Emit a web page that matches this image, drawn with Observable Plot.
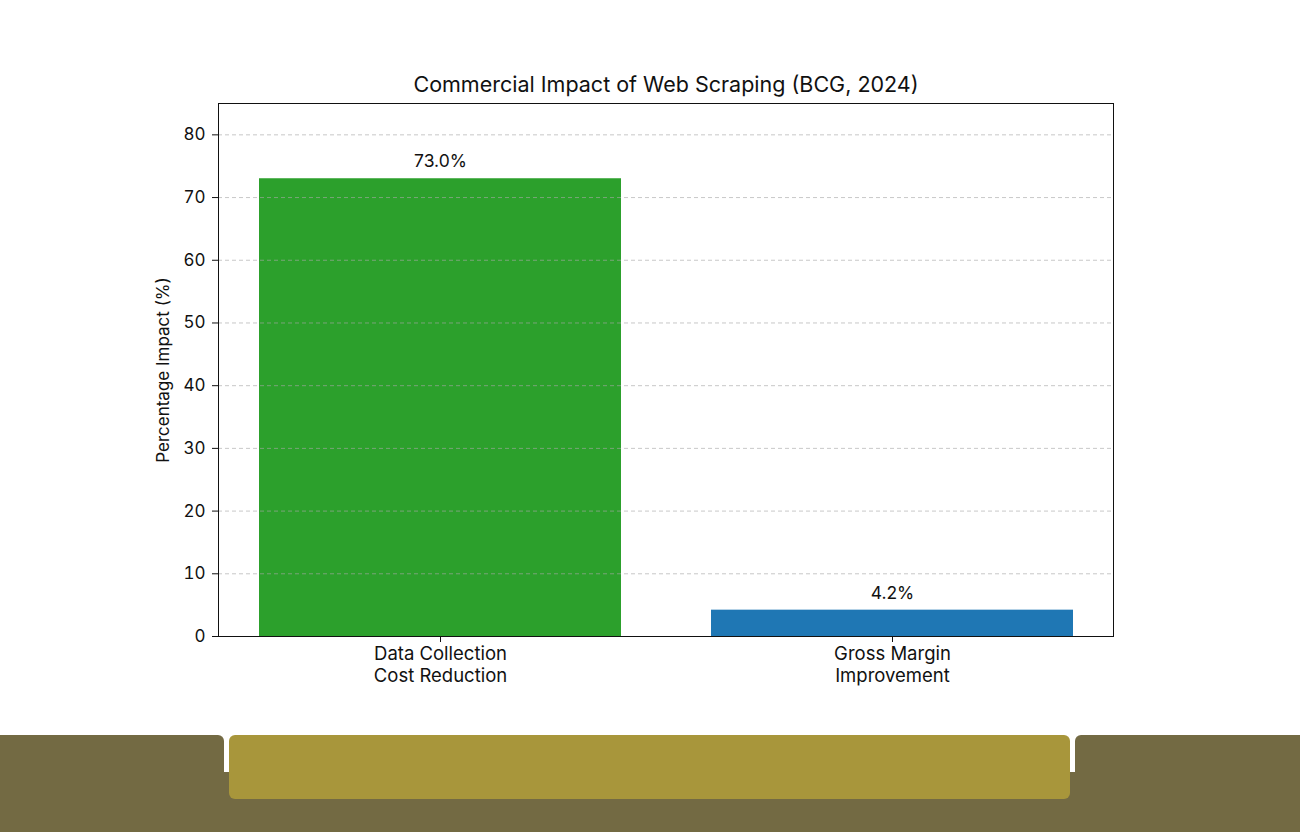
<!DOCTYPE html>
<html>
<head>
<meta charset="utf-8">
<script src="https://cdn.jsdelivr.net/npm/d3@7"></script>
<script src="https://cdn.jsdelivr.net/npm/@observablehq/plot@0.6"></script>
<style>
  html, body { margin: 0; padding: 0; background: #ffffff; overflow: hidden; }
  body { width: 1300px; height: 832px; position: relative; font-family: "Inter", "Roboto", sans-serif; }
  #chart { position: absolute; left: 0; top: 0; }
  .band { position: absolute; }
</style>
</head>
<body>
<div id="chart"></div>
<div class="band" style="left:0; top:772px; width:1300px; height:60px; background:#736a43;"></div>
<div class="band" style="left:0; top:735px; width:224px; height:97px; background:#736a43; border-top-right-radius:6px;"></div>
<div class="band" style="left:1075px; top:735px; width:225px; height:97px; background:#736a43; border-top-left-radius:6px;"></div>
<div class="band" style="left:229px; top:735px; width:841px; height:64px; background:#a8963b; border-radius:6px;"></div>
<script>
// Categories and measured impact (%)
const categories = ["Data Collection\nCost Reduction", "Gross Margin\nImprovement"];
const values = [73.0, 4.2];
const barColors = ["#2ca02c", "#1f77b4"];
const yTicks = [0, 10, 20, 30, 40, 50, 60, 70, 80];
const title = "Commercial Impact of Web Scraping (BCG, 2024)";
const yLabel = "Percentage Impact (%)";

const data = categories.map((c, i) => ({category: c, value: values[i], color: barColors[i]}));
const font = "Inter, Roboto, sans-serif";

const chart = Plot.plot({
  width: 1300,
  height: 735,
  marginLeft: 218,
  marginRight: 187,
  marginTop: 103,
  marginBottom: 99,
  style: {fontFamily: font, fontSize: "17px", color: "#111", background: "transparent"},
  x: {domain: categories, paddingInner: 0.2, paddingOuter: 0.09, label: null},
  y: {domain: [0, 85], label: null},
  marks: [
    Plot.barY(data, {x: "category", y: "value", fill: "color"}),
    Plot.ruleY(yTicks, {stroke: "#a8a8a8", strokeOpacity: 0.7, strokeDasharray: "4,3", strokeWidth: 0.9}),
    Plot.axisY({ticks: yTicks, tickSize: 6, tickPadding: 7, label: null, fontSize: 17, stroke: "#111"}),
    Plot.axisX({tickSize: 6, tickPadding: 3, label: null, fontSize: 18.5, lineHeight: 1.14, stroke: "#111"}),
    Plot.frame({stroke: "#111", strokeWidth: 1}),
    Plot.text(data, {x: "category", y: "value", text: d => d.value.toFixed(1) + "%", dy: -17, lineAnchor: "middle", fontSize: 17.5, fill: "#111"}),
    Plot.text([title], {frameAnchor: "top", dy: -18, lineAnchor: "middle", fontSize: 21.5, fill: "#111"}),
    Plot.text([yLabel], {frameAnchor: "left", dx: -55, rotate: -90, textAnchor: "middle", lineAnchor: "middle", fontSize: 17, fill: "#111"})
  ]
});
document.getElementById("chart").appendChild(chart);
</script>
</body>
</html>
